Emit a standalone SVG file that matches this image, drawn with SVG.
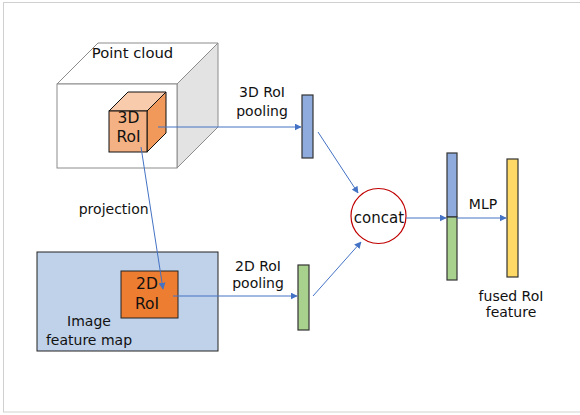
<svg xmlns="http://www.w3.org/2000/svg" width="580" height="415" viewBox="0 0 580 415">
<defs>
<style>
text{font-family:"DejaVu Sans","Liberation Sans",sans-serif;font-size:14px;fill:#111;text-anchor:middle}
.big{font-size:15.5px}
.conn{stroke:#4472c4;stroke-width:1;fill:none;marker-end:url(#ah)}
.bar{stroke:#333;stroke-width:1.2}
</style>
<marker id="ah" viewBox="0 0 10 10" refX="9" refY="5" markerWidth="7" markerHeight="7" markerUnits="userSpaceOnUse" orient="auto">
<path d="M0,0 L10,5 L0,10 z" fill="#4472c4"/>
</marker>
</defs>
<rect x="0" y="0" width="580" height="415" fill="#fff"/>
<rect x="3.5" y="2.5" width="590" height="409.5" fill="none" stroke="#d0d0d0" stroke-width="1"/>

<g id="point-cloud">
<path d="M57,84 L98,43 L218,43 L177,84 Z" fill="#fff" stroke="#8c8c8c" stroke-width="1"/>
<path d="M177,84 L218,43 L218,127 L177,168 Z" fill="#e3e3e3" stroke="#8c8c8c" stroke-width="1"/>
<rect x="57" y="84" width="120" height="84" fill="#fff" stroke="#8c8c8c" stroke-width="1"/>
<text x="132.5" y="58" style="font-size:14.8px">Point cloud</text>
</g>

<g id="roi-3d">
<path d="M109,111 L128,92 L166,92 L147,111 Z" fill="#f8cbad" stroke="#111" stroke-width="1"/>
<path d="M147,111 L166,92 L166,133 L147,152 Z" fill="#f0995a" stroke="#111" stroke-width="1"/>
<rect x="109" y="111" width="38" height="41" fill="#f4b183" stroke="#111" stroke-width="1"/>
<text class="big" x="128.5" y="122.7">3D</text>
<text class="big" x="128.5" y="142.3">RoI</text>
</g>

<g id="image-feature-map">
<rect x="37" y="252" width="181" height="99" fill="#bfd2ea" stroke="#222" stroke-width="1"/>
<text x="89" y="326">Image</text>
<text x="89" y="345">feature map</text>
</g>

<g id="roi-2d">
<rect x="121" y="271" width="57" height="47" fill="#ed7d31" stroke="#222" stroke-width="1"/>
<text class="big" x="147" y="289.3">2D</text>
<text class="big" x="147" y="309">RoI</text>
</g>

<g id="pool-3d">
<rect class="bar" x="302" y="95" width="11" height="63" fill="#8faadc"/>
<text x="262" y="96.7">3D RoI</text>
<text x="262" y="116">pooling</text>
</g>

<g id="pool-2d">
<rect class="bar" x="298" y="265" width="11" height="65" fill="#a9d18e"/>
<text x="258" y="270.7">2D RoI</text>
<text x="258" y="287.5">pooling</text>
</g>

<g id="concat">
<circle cx="378.5" cy="216" r="27.5" fill="#fff" stroke="#c00000" stroke-width="1.2"/>
<text x="379" y="222.5" style="font-size:15px">concat</text>
</g>

<g id="concat-feature">
<rect class="bar" x="447" y="153" width="10" height="64" fill="#8faadc"/>
<rect class="bar" x="447" y="217" width="10" height="63" fill="#a9d18e"/>
</g>

<g id="fused-feature">
<rect class="bar" x="507" y="159" width="11" height="118" fill="#ffd966"/>
<text x="511" y="300.7">fused RoI</text>
<text x="511" y="317">feature</text>
</g>

<text x="483" y="209.3">MLP</text>
<text x="113.7" y="214">projection</text>

<g id="connectors">
<path class="conn" d="M158,127 L301,127"/>
<path class="conn" d="M141,147 L163,289"/>
<path class="conn" d="M173,296 L297,296"/>
<path class="conn" d="M318,132 L358,193"/>
<path class="conn" d="M313,296 L361,242"/>
<path class="conn" d="M406,218 L446,218"/>
<path class="conn" d="M457,218 L506,218"/>
</g>
</svg>
